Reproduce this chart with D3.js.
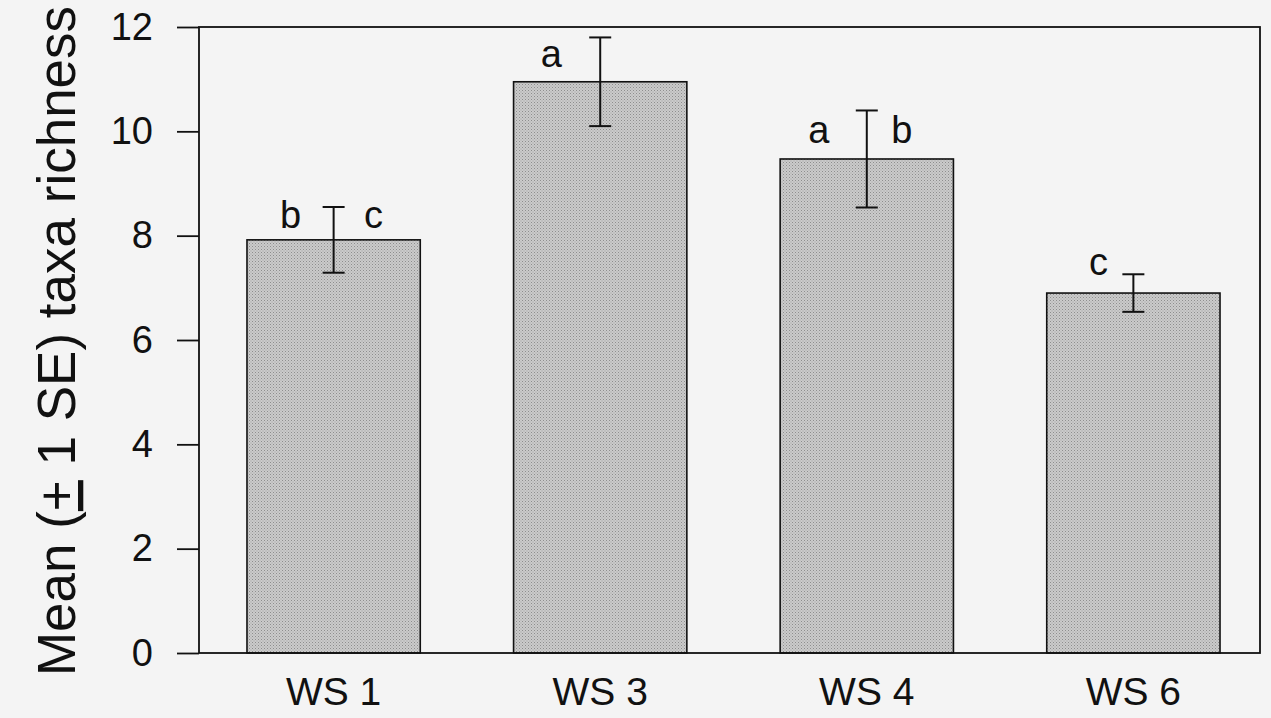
<!DOCTYPE html>
<html>
<head>
<meta charset="utf-8">
<script src="https://cdn.jsdelivr.net/npm/d3@7"></script>
<style>
  html, body { margin: 0; padding: 0; background: #f4f4f4; }
  svg { display: block; }
  text { font-family: "Liberation Sans", Arial, sans-serif; fill: #111; }
</style>
</head>
<body>
<svg id="chart" width="1271" height="718"></svg>
<script>
// Watershed sites and mean taxa richness with one standard error
const sites = ["WS 1", "WS 3", "WS 4", "WS 6"];
const meanRichness = [7.92, 10.95, 9.47, 6.90];
const standardError = [0.63, 0.85, 0.93, 0.36];
// Significance groupings (Tukey letters) for each site
const groupLetters = [["b", "c"], ["a"], ["a", "b"], ["c"]];
const yTicks = [0, 2, 4, 6, 8, 10, 12];

// Letter placement relative to the top of each error bar (pixels)
const letterOffsets = [
  [{ dx: -43, dy: 21 }, { dx: 40, dy: 21 }],
  [{ dx: -49, dy: 30 }],
  [{ dx: -48, dy: 33 }, { dx: 35, dy: 33 }],
  [{ dx: -35, dy: 1 }]
];

const svg = d3.select("#chart");
const frame = { left: 199, right: 1260, top: 27, bottom: 653 };

// Fine stipple used for the bar fill
const defs = svg.append("defs");
const pat = defs.append("pattern")
  .attr("id", "stipple")
  .attr("patternUnits", "userSpaceOnUse")
  .attr("width", 3).attr("height", 3);
pat.append("rect").attr("width", 3).attr("height", 3).attr("fill", "#cbcbcb");
pat.append("rect").attr("x", 0).attr("y", 0).attr("width", 1).attr("height", 1).attr("fill", "#8e8e8e");
pat.append("rect").attr("x", 1.5).attr("y", 1.5).attr("width", 1).attr("height", 1).attr("fill", "#a0a0a0");

const x = d3.scaleBand()
  .domain(sites)
  .range([199, 1268])
  .paddingInner(0.35)
  .paddingOuter(0.18);

const y = d3.scaleLinear()
  .domain([0, 12])
  .range([frame.bottom, frame.top]);

const rows = sites.map((s, i) => ({
  site: s, mean: meanRichness[i], se: standardError[i],
  letters: groupLetters[i], offsets: letterOffsets[i]
}));

// Bars
svg.append("g").selectAll("rect")
  .data(rows)
  .join("rect")
  .attr("x", d => x(d.site))
  .attr("y", d => y(d.mean))
  .attr("width", x.bandwidth())
  .attr("height", d => y(0) - y(d.mean))
  .attr("fill", "url(#stipple)")
  .attr("stroke", "#111")
  .attr("stroke-width", 1.6);

// Error bars (± 1 SE)
const capHalf = 11;
const eb = svg.append("g").attr("stroke", "#111").attr("stroke-width", 2)
  .selectAll("g").data(rows).join("g");
eb.append("line")
  .attr("x1", d => x(d.site) + x.bandwidth() / 2)
  .attr("x2", d => x(d.site) + x.bandwidth() / 2)
  .attr("y1", d => y(d.mean + d.se))
  .attr("y2", d => y(d.mean - d.se));
eb.append("line")
  .attr("x1", d => x(d.site) + x.bandwidth() / 2 - capHalf)
  .attr("x2", d => x(d.site) + x.bandwidth() / 2 + capHalf)
  .attr("y1", d => y(d.mean + d.se))
  .attr("y2", d => y(d.mean + d.se));
eb.append("line")
  .attr("x1", d => x(d.site) + x.bandwidth() / 2 - capHalf)
  .attr("x2", d => x(d.site) + x.bandwidth() / 2 + capHalf)
  .attr("y1", d => y(d.mean - d.se))
  .attr("y2", d => y(d.mean - d.se));

// Group letters
const letterData = rows.flatMap(d => d.letters.map((l, j) => ({
  letter: l,
  cx: x(d.site) + x.bandwidth() / 2 + d.offsets[j].dx,
  cy: y(d.mean + d.se) + d.offsets[j].dy
})));
svg.append("g").selectAll("text")
  .data(letterData)
  .join("text")
  .attr("x", d => d.cx)
  .attr("y", d => d.cy)
  .attr("text-anchor", "middle")
  .attr("font-size", 38)
  .text(d => d.letter);

// Plot frame
svg.append("rect")
  .attr("x", frame.left).attr("y", frame.top)
  .attr("width", frame.right - frame.left)
  .attr("height", frame.bottom - frame.top)
  .attr("fill", "none")
  .attr("stroke", "#111")
  .attr("stroke-width", 1.8);

// Y axis
const yAxis = svg.append("g")
  .attr("transform", `translate(${frame.left},0)`)
  .call(d3.axisLeft(y).tickValues(yTicks).tickSize(22).tickPadding(24).tickFormat(d3.format("d")));
yAxis.select(".domain").remove();
yAxis.selectAll("line").attr("stroke", "#111").attr("stroke-width", 1.8);
yAxis.selectAll("text").attr("font-size", 38).attr("fill", "#111")
  .attr("font-family", "Liberation Sans, Arial, sans-serif");

// X axis labels
const xAxis = svg.append("g")
  .attr("transform", `translate(0,${frame.bottom})`)
  .call(d3.axisBottom(x).tickSize(0).tickPadding(24));
xAxis.select(".domain").remove();
xAxis.selectAll("text").attr("font-size", 39).attr("fill", "#111")
  .attr("font-family", "Liberation Sans, Arial, sans-serif");

// Y axis title
const title = svg.append("text")
  .attr("transform", "translate(75,341) rotate(-90)")
  .attr("text-anchor", "middle")
  .attr("font-size", 53);
title.append("tspan").text("Mean (");
title.append("tspan").attr("text-decoration", "underline").text("+");
title.append("tspan").text(" 1 SE) taxa richness");
</script>
</body>
</html>
